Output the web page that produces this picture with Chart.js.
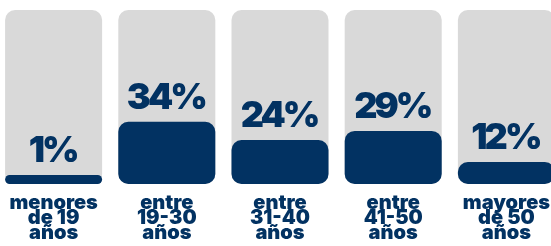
<!DOCTYPE html>
<html>
<head>
<meta charset="utf-8">
<script src="https://cdn.jsdelivr.net/npm/chart.js@4"></script>
<style>
  html, body { margin: 0; padding: 0; background: #fff; overflow: hidden; }
  #wrap { position: absolute; left: -3px; top: 0; width: 566px; height: 246px; }
</style>
</head>
<body>
<div id="wrap"><canvas id="ageChart"></canvas></div>
<script>
// grupos de edad y porcentajes
const categories = [
    ['menores', 'de 19', 'años'],
    ['entre', '19-30', 'años'],
    ['entre', '31-40', 'años'],
    ['entre', '41-50', 'años'],
    ['mayores', 'de 50', 'años']
];
const percentages = [1, 34, 24, 29, 12];
const trackValues = [95, 95, 95, 95, 95];

const navy = '#023262';
const grey = '#d9d9d9';

// etiquetas de porcentaje encima de cada barra
const valueLabels = {
    id: 'valueLabels',
    afterDatasetsDraw(chart) {
        const c = chart.ctx;
        const meta = chart.getDatasetMeta(0);
        c.save();
        c.fillStyle = navy;
        c.font = '900 36px Inter';
        c.letterSpacing = '-3px';
        c.textAlign = 'center';
        c.textBaseline = 'alphabetic';
        meta.data.forEach((bar, i) => {
            c.fillText(percentages[i] + '%', bar.x - 1, bar.y - 13);
        });
        c.restore();
    }
};

const ctx = document.getElementById('ageChart').getContext('2d');
new Chart(ctx, {
    type: 'bar',
    data: {
        labels: categories,
        datasets: [{
            data: percentages,
            backgroundColor: navy,
            borderRadius: 10,
            borderSkipped: false,
            minBarLength: 9
        }, {
            data: trackValues,
            backgroundColor: grey,
            borderRadius: 10,
            borderSkipped: false
        }]
    },
    options: {
        responsive: true,
        maintainAspectRatio: false,
        animation: false,
        layout: { padding: { top: 10, bottom: 0 } },
        datasets: {
            bar: { grouped: false, categoryPercentage: 1, barPercentage: 0.857 }
        },
        plugins: { legend: { display: false }, tooltip: { enabled: false } },
        scales: {
            x: {
                grid: { display: false },
                border: { display: false },
                afterFit(scale) { scale.height = 62; },
                ticks: {
                    color: navy,
                    font: { family: 'Inter', size: 20, weight: 900, lineHeight: 0.75 },
                    padding: 3,
                    maxRotation: 0,
                    autoSkip: false
                }
            },
            y: { display: false, min: 0, max: 95 }
        }
    },
    plugins: [valueLabels]
});
</script>
</body>
</html>
